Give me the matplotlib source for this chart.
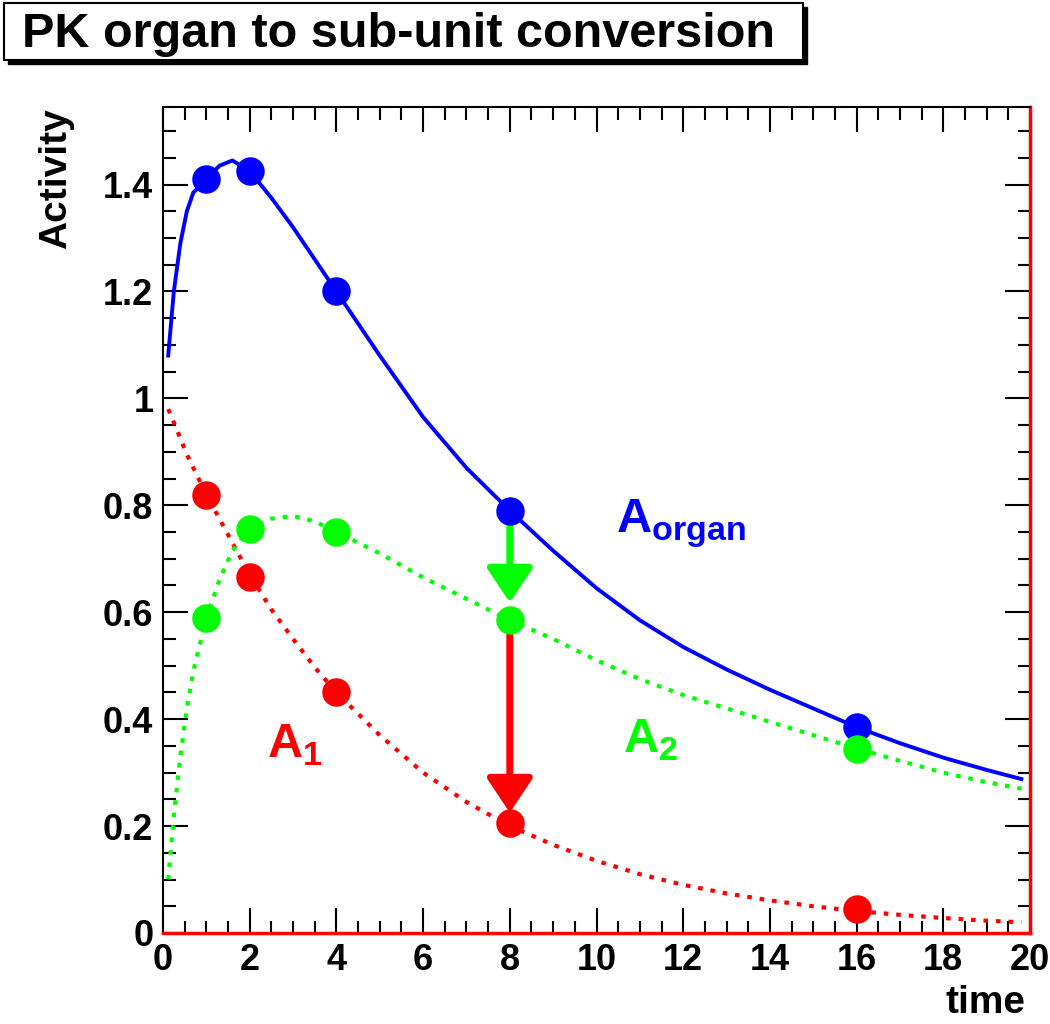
import matplotlib
matplotlib.use("Agg")
import matplotlib.pyplot as plt
from matplotlib.patches import Rectangle
from matplotlib.ticker import MultipleLocator, FuncFormatter

plt.rcParams['font.family'] = ['Liberation Sans', 'DejaVu Sans']
plt.rcParams['font.weight'] = 'bold'
plt.rcParams['mathtext.fontset'] = 'custom'
plt.rcParams['mathtext.rm'] = 'Liberation Sans:bold'
plt.rcParams['mathtext.bf'] = 'Liberation Sans:bold'

# measured points
t_meas = [1, 2, 4, 8, 16]
organ_meas = [1.41, 1.425, 1.20, 0.79, 0.385]
a1_meas = [0.82, 0.665, 0.45, 0.205, 0.045]
a2_meas = [0.59, 0.755, 0.75, 0.585, 0.345]

# fitted curves
t_fit = [0.12, 0.25, 0.4, 0.55, 0.7, 1, 1.3, 1.6, 2, 2.5, 3, 3.5, 4, 5, 6, 7,
         8, 9, 10, 11, 12, 13, 14, 15, 16, 17, 18, 19, 19.8]
organ_fit = [1.08, 1.20, 1.29, 1.35, 1.385, 1.41, 1.435, 1.445, 1.425, 1.375,
             1.32, 1.26, 1.20, 1.08, 0.965, 0.87, 0.79, 0.715, 0.645, 0.585,
             0.535, 0.493, 0.455, 0.42, 0.385, 0.355, 0.328, 0.305, 0.288]
a1_fit = [0.98, 0.955, 0.925, 0.895, 0.87, 0.82, 0.775, 0.73, 0.67, 0.605,
          0.55, 0.497, 0.45, 0.37, 0.30, 0.245, 0.20, 0.165, 0.135, 0.11,
          0.09, 0.074, 0.061, 0.05, 0.041, 0.034, 0.028, 0.023, 0.02]
a2_fit = [0.10, 0.22, 0.33, 0.42, 0.49, 0.59, 0.66, 0.715, 0.755, 0.775,
          0.78, 0.77, 0.75, 0.71, 0.665, 0.625, 0.585, 0.55, 0.51, 0.475,
          0.445, 0.42, 0.395, 0.37, 0.345, 0.322, 0.30, 0.282, 0.27]

BLUE = '#0000ff'
RED = '#ff0000'
GREEN = '#00ff00'

W, H = 1050, 1024
fig = plt.figure(figsize=(W / 100, H / 100), dpi=100)
ax = fig.add_axes([163 / W, 1 - 933 / H, (1030 - 163) / W, (933 - 107) / H])

dots = (0, (1.1, 1.9))
ax.plot(t_fit, organ_fit, color=BLUE, lw=2.8, zorder=3)
ax.plot(t_fit, a1_fit, color=RED, lw=3, ls=dots, zorder=3)
ax.plot(t_fit, a2_fit, color=GREEN, lw=3, ls=dots, zorder=3)

# conversion arrows at t=8
i8 = t_meas.index(8)
arrow_kw = dict(arrowstyle='-|>,head_length=2.1,head_width=1.4',
                mutation_scale=10, lw=5, shrinkA=0, shrinkB=0)
ax.annotate('', xy=(8, a2_meas[i8] + 0.033), xytext=(8, organ_meas[i8]),
            arrowprops=dict(color=GREEN, **arrow_kw), zorder=4)
ax.annotate('', xy=(8, a1_meas[i8] + 0.02), xytext=(8, a2_meas[i8]),
            arrowprops=dict(color=RED, **arrow_kw), zorder=4)

ax.plot(t_meas, organ_meas, 'o', color=BLUE, ms=19.5, zorder=5)
ax.plot(t_meas, a1_meas, 'o', color=RED, ms=19.5, zorder=5)
ax.plot(t_meas, a2_meas, 'o', color=GREEN, ms=19.5, zorder=5)

ax.text(10.45, 0.748, r'$\mathbf{A}_{\mathbf{organ}}$', color=BLUE, fontsize=35)
ax.text(2.4, 0.327, r'$\mathbf{A}_{\mathbf{1}}$', color=RED, fontsize=35)
ax.text(10.6, 0.336, r'$\mathbf{A}_{\mathbf{2}}$', color=GREEN, fontsize=35)

ax.set_xlim(0, 20)
ax.set_ylim(0, 1.545)
ax.xaxis.set_major_locator(MultipleLocator(2))
ax.xaxis.set_minor_locator(MultipleLocator(0.5))
ax.yaxis.set_major_locator(MultipleLocator(0.2))
ax.yaxis.set_minor_locator(MultipleLocator(0.05))
fmt = FuncFormatter(lambda v, p: '%g' % round(v, 3))
ax.xaxis.set_major_formatter(fmt)
ax.yaxis.set_major_formatter(fmt)
ax.tick_params(which='both', direction='in', top=True, right=True,
               width=1.5, color='black', labelsize=26, pad=7)
ax.tick_params(which='major', length=18)
ax.tick_params(which='minor', length=9)
for s in ['left', 'top']:
    ax.spines[s].set_linewidth(1.5)
for s in ['bottom', 'right']:
    ax.spines[s].set_color(RED)
    ax.spines[s].set_linewidth(2.5)

fig.text(38 / W, 1 - 108 / H, 'Activity', rotation=90, ha='left', va='top',
         fontsize=28)
fig.text(1025 / W, 1 - 1013 / H, 'time', ha='right', va='baseline', fontsize=28)

# title box with shadow
fig.add_artist(Rectangle((8 / W, 1 - 64 / H), 799 / W, 57 / H,
                         transform=fig.transFigure, facecolor='black',
                         edgecolor='black', zorder=1))
fig.add_artist(Rectangle((4 / W, 1 - 60 / H), 799 / W, 57 / H,
                         transform=fig.transFigure, facecolor='white',
                         edgecolor='black', lw=1.5, zorder=2))
fig.text(398 / W, 1 - 47 / H, 'PK organ to sub-unit conversion', ha='center',
         va='baseline', fontsize=35, zorder=3)

fig.savefig('out.png', dpi=100)
